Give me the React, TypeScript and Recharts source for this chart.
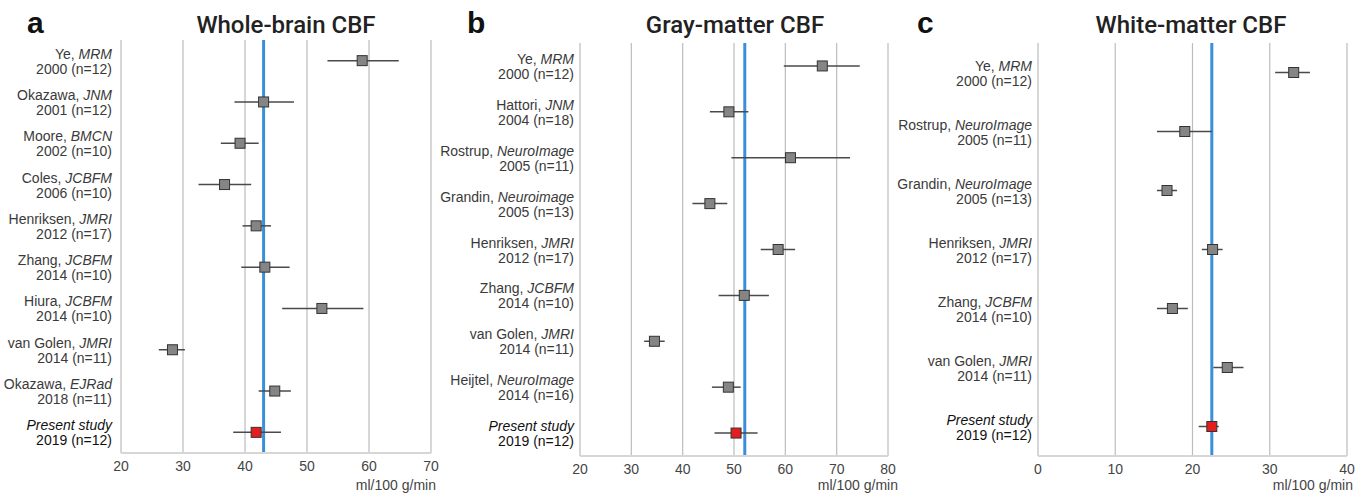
import React from 'react';
import {
  ScatterChart,
  Scatter,
  XAxis,
  YAxis,
  CartesianGrid,
  ErrorBar,
  ReferenceLine,
} from 'recharts';

// a: whole-brain CBF
const wbAuthors = ['Ye', 'Okazawa', 'Moore', 'Coles', 'Henriksen', 'Zhang', 'Hiura', 'van Golen', 'Okazawa', 'Present study'];
const wbJournals = ['MRM', 'JNM', 'BMCN', 'JCBFM', 'JMRI', 'JCBFM', 'JCBFM', 'JMRI', 'EJRad', ''];
const wbYears = ['2000 (n=12)', '2001 (n=12)', '2002 (n=10)', '2006 (n=10)', '2012 (n=17)', '2014 (n=10)', '2014 (n=10)', '2014 (n=11)', '2018 (n=11)', '2019 (n=12)'];
const wbMean = [58.9, 43.0, 39.2, 36.7, 41.8, 43.2, 52.4, 28.3, 44.8, 41.8];
const wbLow = [53.3, 38.3, 36.1, 32.5, 39.6, 39.4, 46.0, 26.1, 42.2, 38.1];
const wbHigh = [64.8, 47.9, 42.2, 41.0, 44.2, 47.2, 59.1, 30.3, 47.4, 45.8];
const wbTicks = [20, 30, 40, 50, 60, 70];
const wbPooled = 43.0;

// b: gray-matter CBF
const gmAuthors = ['Ye', 'Hattori', 'Rostrup', 'Grandin', 'Henriksen', 'Zhang', 'van Golen', 'Heijtel', 'Present study'];
const gmJournals = ['MRM', 'JNM', 'NeuroImage', 'Neuroimage', 'JMRI', 'JCBFM', 'JMRI', 'NeuroImage', ''];
const gmYears = ['2000 (n=12)', '2004 (n=18)', '2005 (n=11)', '2005 (n=13)', '2012 (n=17)', '2014 (n=10)', '2014 (n=11)', '2014 (n=16)', '2019 (n=12)'];
const gmMean = [67.2, 49.0, 61.0, 45.3, 58.6, 52.0, 34.5, 48.9, 50.4];
const gmLow = [59.7, 45.3, 49.5, 41.9, 55.2, 47.0, 32.5, 45.7, 46.2];
const gmHigh = [74.5, 52.8, 72.6, 48.7, 61.9, 56.8, 36.5, 51.3, 54.6];
const gmTicks = [20, 30, 40, 50, 60, 70, 80];
const gmPooled = 52.1;

// c: white-matter CBF
const wmAuthors = ['Ye', 'Rostrup', 'Grandin', 'Henriksen', 'Zhang', 'van Golen', 'Present study'];
const wmJournals = ['MRM', 'NeuroImage', 'NeuroImage', 'JMRI', 'JCBFM', 'JMRI', ''];
const wmYears = ['2000 (n=12)', '2005 (n=11)', '2005 (n=13)', '2012 (n=17)', '2014 (n=10)', '2014 (n=11)', '2019 (n=12)'];
const wmMean = [33.1, 19.0, 16.7, 22.6, 17.4, 24.5, 22.5];
const wmLow = [30.7, 15.4, 15.4, 21.2, 15.4, 22.7, 20.8];
const wmHigh = [35.2, 22.5, 18.0, 23.9, 19.4, 26.6, 23.4];
const wmTicks = [0, 10, 20, 30, 40];
const wmPooled = 22.5;

const FONT = '"Liberation Sans", Arial, sans-serif';
const PRESENT = 'Present study';

function buildRows(authors, journals, years, mean, low, high) {
  return authors.map((a, i) => ({
    row: i,
    author: a,
    journal: journals[i],
    year: years[i],
    value: mean[i],
    err: [mean[i] - low[i], high[i] - mean[i]],
  }));
}

function StudyTick(props) {
  const { x, y, payload, rows } = props;
  const r = rows[payload.value];
  if (!r) return null;
  const present = r.author === PRESENT;
  const color = present ? '#111' : '#3a3a3a';
  return (
    <g>
      <text x={x} y={y - 2} textAnchor="end" fontSize={14} fontFamily={FONT} fill={color}>
        {present ? (
          <tspan fontStyle="italic">{r.author}</tspan>
        ) : (
          <>
            <tspan>{r.author + ', '}</tspan>
            <tspan fontStyle="italic">{r.journal}</tspan>
          </>
        )}
      </text>
      <text x={x} y={y + 13} textAnchor="end" fontSize={14} fontFamily={FONT} fill={color}>
        {r.year}
      </text>
    </g>
  );
}

function SquareMark(props) {
  const { cx, cy, payload } = props;
  const present = payload && payload.author === PRESENT;
  return (
    <rect
      x={cx - 5}
      y={cy - 5}
      width={10}
      height={10}
      fill={present ? '#e41e1e' : '#858585'}
      stroke="#333"
      strokeWidth={1}
    />
  );
}

function ForestPanel({ rows, ticks, pooled, left, width, yAxisWidth, rightMargin, top, tickGap, unitShift }) {
  const n = rows.length;
  const plotBottom = top === 40 ? 453 : 456;
  return (
    <div style={{ position: 'absolute', left, top: 0 }}>
      <ScatterChart
        width={width}
        height={495}
        margin={{ top, right: rightMargin, bottom: 0, left: 0 }}
      >
        <CartesianGrid horizontal={false} stroke="#bdbdbd" strokeWidth={1.2} />
        <XAxis
          type="number"
          dataKey="value"
          domain={[ticks[0], ticks[ticks.length - 1]]}
          ticks={ticks}
          interval={0}
          height={495 - plotBottom}
          tickLine={false}
          tickSize={0}
          tickMargin={8}
          axisLine={{ stroke: '#d6d6d6', strokeWidth: 2 }}
          tick={{ fontSize: 14, fontFamily: FONT, fill: '#444' }}
          label={{
            content: (p) => {
              const vb = p.viewBox;
              return (
                <text
                  x={vb.x + vb.width + unitShift}
                  y={vb.y + vb.height - 5}
                  textAnchor="end"
                  fontSize={14}
                  fontFamily={FONT}
                  fill="#444"
                >
                  ml/100 g/min
                </text>
              );
            },
          }}
        />
        <YAxis
          type="number"
          dataKey="row"
          domain={[-0.5, n - 0.5]}
          ticks={rows.map((r) => r.row)}
          interval={0}
          reversed
          width={yAxisWidth}
          tickLine={false}
          tickSize={0}
          tickMargin={tickGap}
          axisLine={{ stroke: '#d6d6d6', strokeWidth: 2 }}
          tick={<StudyTick rows={rows} />}
        />
        <ReferenceLine x={pooled} stroke="#3a8fd8" strokeWidth={3} />
        <Scatter data={rows} shape={<SquareMark />} isAnimationActive={false}>
          <ErrorBar dataKey="err" direction="x" width={0} stroke="#4a4a4a" strokeWidth={1.5} />
        </Scatter>
      </ScatterChart>
    </div>
  );
}

export default function App() {
  const wbRows = buildRows(wbAuthors, wbJournals, wbYears, wbMean, wbLow, wbHigh);
  const gmRows = buildRows(gmAuthors, gmJournals, gmYears, gmMean, gmLow, gmHigh);
  const wmRows = buildRows(wmAuthors, wmJournals, wmYears, wmMean, wmLow, wmHigh);

  return (
    <div style={{ position: 'absolute', left: 0, top: 0, width: 1371, height: 495, background: '#fff', overflow: 'hidden' }}>
      <ForestPanel rows={wbRows} ticks={wbTicks} pooled={wbPooled} left={0} width={450} yAxisWidth={121} rightMargin={19} top={40} tickGap={9} unitShift={5} />
      <ForestPanel rows={gmRows} ticks={gmTicks} pooled={gmPooled} left={436} width={474} yAxisWidth={144} rightMargin={22} top={43} tickGap={6} unitShift={10} />
      <ForestPanel rows={wmRows} ticks={wmTicks} pooled={wmPooled} left={890} width={481} yAxisWidth={148} rightMargin={24} top={43} tickGap={6} unitShift={6} />
      <svg width={1371} height={495} style={{ position: 'absolute', left: 0, top: 0, pointerEvents: 'none' }}>
        <g fontFamily={FONT} fontWeight={700} fontSize={30} fill="#111">
          <text x={27} y={33}>a</text>
          <text x={467} y={33}>b</text>
          <text x={917} y={33}>c</text>
        </g>
        <g fontFamily="Roboto, Arial, sans-serif" fontWeight={500} fontSize={24} fill="#222" textAnchor="middle">
          <text x={286} y={33}>Whole-brain CBF</text>
          <text x={735} y={33}>Gray-matter CBF</text>
          <text x={1191} y={33}>White-matter CBF</text>
        </g>
      </svg>
    </div>
  );
}
